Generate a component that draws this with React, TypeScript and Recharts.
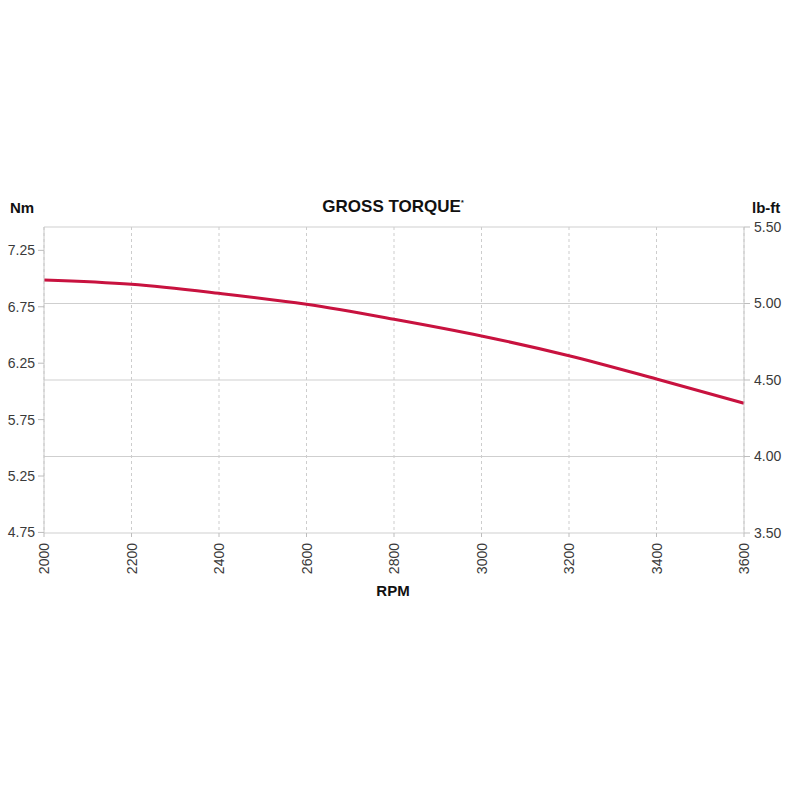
import React from "react";
import { LineChart, Line, XAxis, YAxis, CartesianGrid } from "recharts";

const rpm = [2000, 2200, 2400, 2600, 2800, 3000, 3200, 3400, 3600];
const torqueNm = [6.987, 6.949, 6.869, 6.772, 6.639, 6.491, 6.316, 6.11, 5.895];
const nmTicks = [4.75, 5.25, 5.75, 6.25, 6.75, 7.25];
const lbftTicks = [3.5, 4.0, 4.5, 5.0, 5.5];
const rpmTicks = [2000, 2200, 2400, 2600, 2800, 3000, 3200, 3400, 3600];

const data = rpm.map((r, i) => ({ rpm: r, nm: torqueNm[i] }));

const FONT = "'Liberation Sans', Arial, sans-serif";

const XTick = (props: any) => {
  const { x, y, payload } = props;
  return (
    <text
      x={x}
      y={y}
      transform={`rotate(-90, ${x}, ${y})`}
      textAnchor="end"
      dominantBaseline="central"
      fill="#3a3a3a"
      fontSize={14}
      fontFamily={FONT}
    >
      {payload.value}
    </text>
  );
};

const labelStyle: React.CSSProperties = {
  position: "absolute",
  fontFamily: FONT,
  fontWeight: 700,
  color: "#111",
  whiteSpace: "nowrap",
};

export default function App() {
  return (
    <div style={{ position: "absolute", left: 0, top: 0, width: 800, height: 800, background: "#fff" }}>
      <LineChart
        width={800}
        height={800}
        data={data}
        margin={{ top: 227, right: 0, bottom: 207, left: 0 }}
      >
        <CartesianGrid
          yAxisId="right"
          vertical={false}
          stroke="#cfcfcf"
          strokeWidth={1}
        />
        <CartesianGrid
          yAxisId="right"
          horizontal={false}
          stroke="#cdcdcd"
          strokeDasharray="3 3"
          strokeWidth={1}
        />
        <XAxis
          dataKey="rpm"
          type="number"
          domain={[2000, 3600]}
          ticks={rpmTicks}
          height={60}
          axisLine={false}
          tickLine={{ stroke: "#bdbdbd" }}
          tickSize={4}
          tickMargin={6}
          tick={<XTick />}
          interval={0}
        />
        <YAxis
          yAxisId="left"
          orientation="left"
          type="number"
          domain={[4.745, 7.457]}
          ticks={nmTicks}
          allowDataOverflow
          width={44}
          axisLine={{ stroke: "#c8c8c8" }}
          tickLine={{ stroke: "#bdbdbd" }}
          tickSize={6}
          tickMargin={3}
          tickFormatter={(v: number) => v.toFixed(2)}
          tick={{ fill: "#3a3a3a", fontSize: 14, fontFamily: FONT }}
          interval={0}
        />
        <YAxis
          yAxisId="right"
          orientation="right"
          type="number"
          domain={[3.5, 5.5]}
          ticks={lbftTicks}
          allowDataOverflow
          width={56}
          axisLine={{ stroke: "#c8c8c8" }}
          tickLine={{ stroke: "#bdbdbd" }}
          tickSize={6}
          tickMargin={4}
          tickFormatter={(v: number) => v.toFixed(2)}
          tick={{ fill: "#3a3a3a", fontSize: 14, fontFamily: FONT, textAnchor: "start" }}
          interval={0}
        />
        <Line
          yAxisId="left"
          dataKey="nm"
          type="monotone"
          stroke="#c8123f"
          strokeWidth={3}
          dot={false}
          activeDot={false}
          isAnimationActive={false}
        />
      </LineChart>
      <div style={{ ...labelStyle, left: 10, top: 199, fontSize: 15 }}>Nm</div>
      <div style={{ ...labelStyle, left: 752, top: 199, fontSize: 15 }}>lb-ft</div>
      <div style={{ ...labelStyle, left: 393, top: 197, fontSize: 17, transform: "translateX(-50%)" }}>
        GROSS TORQUE<sup style={{ fontSize: 7, verticalAlign: "top", position: "relative", top: 2 }}>*</sup>
      </div>
      <div style={{ ...labelStyle, left: 393, top: 582, fontSize: 15, transform: "translateX(-50%)" }}>RPM</div>
    </div>
  );
}
